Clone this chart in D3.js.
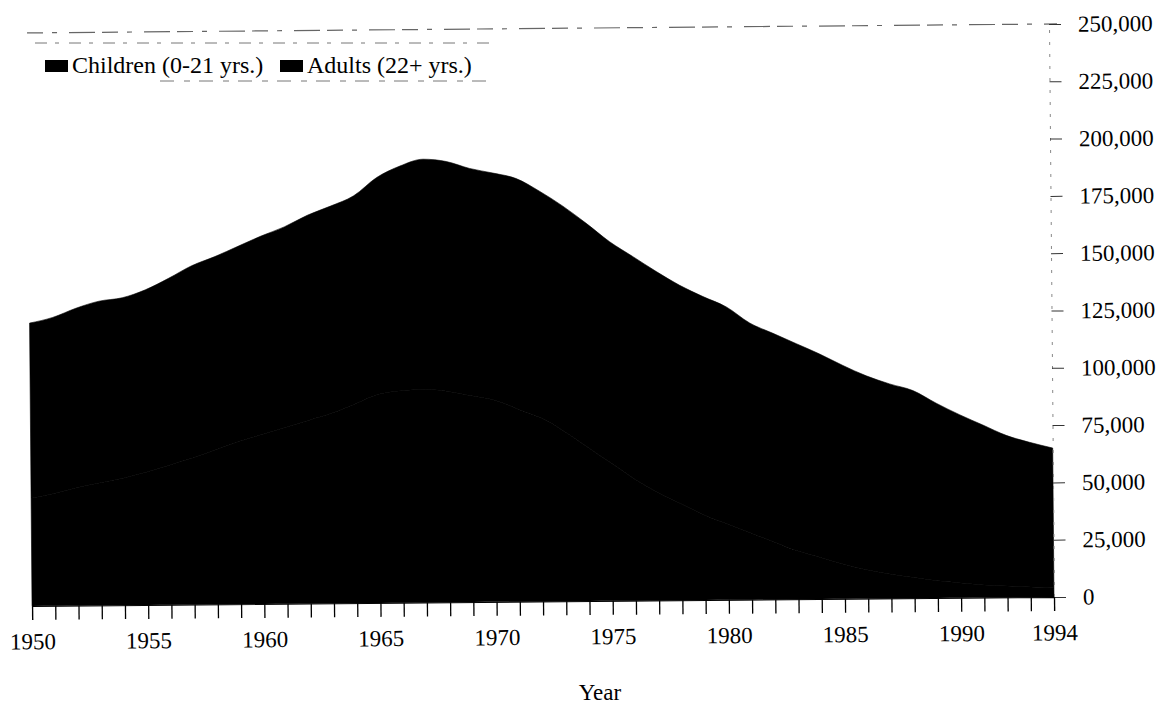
<!DOCTYPE html>
<html>
<head>
<meta charset="utf-8">
<script src="https://cdn.jsdelivr.net/npm/d3@7"></script>
<style>
    body { margin: 0; background: #fff; }
    text { font-family: "Liberation Serif", "Times New Roman", serif; fill: #000; }
</style>
</head>
<body>
<svg id="AreaChart"></svg>
<script>
// values (residents, by year)
const years = [1950, 1951, 1952, 1953, 1954, 1955, 1956, 1957, 1958, 1959,
    1960, 1961, 1962, 1963, 1964, 1965, 1966, 1967, 1968, 1969,
    1970, 1971, 1972, 1973, 1974, 1975, 1976, 1977, 1978, 1979,
    1980, 1981, 1982, 1983, 1984, 1985, 1986, 1987, 1988, 1989,
    1990, 1991, 1992, 1993, 1994];

const children = [47000, 49000, 51500, 53500, 55500, 58000, 61000, 64000, 67500, 71000,
    74000, 77000, 80000, 83000, 87000, 91000, 92500, 93000, 92000, 90000,
    88000, 84000, 80000, 74000, 67000, 60000, 53000, 47000, 42000, 37000,
    33000, 29000, 25000, 21000, 18000, 15000, 12500, 10500, 9000, 7500,
    6500, 5500, 5000, 4500, 4000];

const adults = [76400, 76800, 78200, 79200, 78600, 79500, 81400, 83800, 84200, 85100,
    86500, 87400, 89400, 90300, 90700, 94600, 98000, 100400, 100300, 99200,
    99100, 100600, 99000, 98400, 97800, 96700, 97100, 96500, 95400, 95400,
    94800, 91700, 91100, 90500, 88900, 86800, 84700, 83100, 81600, 77500,
    73400, 69800, 65700, 63100, 61000];

const seriesNames = ["Children (0-21 yrs.)", "Adults (22+ yrs.)"];
const yTicks = [0, 25000, 50000, 75000, 100000, 125000, 150000, 175000, 200000, 225000, 250000];
const xLabels = [1950, 1955, 1960, 1965, 1970, 1975, 1980, 1985, 1990, 1994];

const width = 1163;
const height = 705;

const svg = d3.select("#AreaChart")
    .attr("width", width)
    .attr("height", height);

const x = d3.scaleLinear().domain([1950, 1994]).range([32, 1054]);
const y = d3.scaleLinear().domain([0, 250000]).range([597, 24]);

const rows = years.map((yr, i) => ({year: yr, children: children[i], adults: adults[i]}));
const stack = d3.stack().keys(["children", "adults"]);
const layers = stack(rows);

// both series printed in black on the scanned page
const fills = ["#000", "#000"];

// the scanned page sits slightly tilted
const plot = svg.append("g")
    .attr("transform", "rotate(-0.5," + x(1994) + "," + y(0) + ")");

// faint frame line at the top
plot.append("line")
    .attr("x1", x(1950))
    .attr("x2", x(1994) + 8)
    .attr("y1", y(250000))
    .attr("y2", y(250000))
    .attr("stroke", "#666")
    .attr("stroke-width", 1.2)
    .attr("stroke-dasharray", "16,9,5,12,26,7");

const area = d3.area()
    .x(d => x(d.data.year))
    .y0(d => y(d[0]))
    .y1(d => y(d[1]))
    .curve(d3.curveMonotoneX);

plot.append("g")
    .attr("class", "layers")
    .selectAll("path")
    .data(layers)
    .join("path")
    .attr("fill", (d, i) => fills[i])
    .attr("stroke", (d, i) => fills[i])
    .attr("stroke-width", 0.6)
    .attr("d", area);

// right axis
const yAxis = plot.append("g")
    .attr("transform", "translate(" + x(1994) + ",0)")
    .call(d3.axisRight(y)
        .tickValues(yTicks)
        .tickFormat(d3.format(","))
        .tickSize(12)
        .tickPadding(17));
yAxis.select(".domain")
    .attr("stroke", "#888")
    .attr("stroke-dasharray", "3,9");
yAxis.selectAll(".tick line").attr("stroke", "#333");
yAxis.selectAll(".tick text")
    .style("font-size", "23px")
    .style("font-family", "Liberation Serif");

// bottom axis, one tick per year
const xAxis = plot.append("g")
    .attr("transform", "translate(0," + y(0) + ")")
    .call(d3.axisBottom(x)
        .tickValues(years)
        .tickFormat(d => xLabels.includes(d) ? d : "")
        .tickSize(14)
        .tickPadding(13));
xAxis.select(".domain").attr("stroke", "#000");
xAxis.selectAll(".tick line").attr("stroke", "#000").attr("stroke-width", 1.3);
xAxis.selectAll(".tick text")
    .style("font-size", "23px")
    .style("font-family", "Liberation Serif");

// legend
const legend = svg.append("g").attr("class", "legend");
legend.append("line")
    .attr("x1", 35).attr("x2", 490).attr("y1", 43).attr("y2", 43)
    .attr("stroke", "#777").attr("stroke-dasharray", "12,8,4,10");
legend.append("line")
    .attr("x1", 160).attr("x2", 490).attr("y1", 81).attr("y2", 81)
    .attr("stroke", "#777").attr("stroke-dasharray", "14,10,6,9");

const legendX = [45, 280];
const item = legend.selectAll("g.item")
    .data(seriesNames)
    .join("g")
    .attr("class", "item")
    .attr("transform", (d, i) => "translate(" + legendX[i] + ",0)");
item.append("rect")
    .attr("x", 0)
    .attr("y", 60)
    .attr("width", 23)
    .attr("height", 12)
    .attr("fill", (d, i) => fills[i]);
item.append("text")
    .attr("x", 27)
    .attr("y", 73)
    .style("font-size", "24px")
    .text(d => d);

svg.append("text")
    .attr("x", 600)
    .attr("y", 700)
    .attr("text-anchor", "middle")
    .style("font-size", "23px")
    .text("Year");
</script>
</body>
</html>
